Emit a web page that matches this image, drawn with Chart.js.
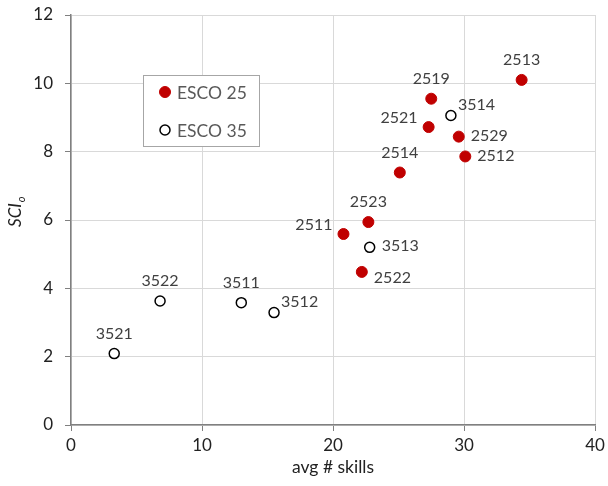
<!DOCTYPE html>
<html>
<head>
<meta charset="utf-8">
<script src="https://cdn.jsdelivr.net/npm/chart.js@4/dist/chart.umd.min.js"></script>
<style>
  body { margin: 0; background: #fff; }
  canvas { display: block; }
</style>
</head>
<body>
<canvas id="chart" width="608" height="486"></canvas>
<script>
// ESCO 25 occupations
var esco25Codes = ['2513', '2519', '2521', '2529', '2512', '2514', '2523', '2511', '2522'];
var esco25Skills = [34.4, 27.5, 27.3, 29.6, 30.1, 25.1, 22.7, 20.8, 22.2];
var esco25Sci = [10.1, 9.55, 8.72, 8.44, 7.86, 7.39, 5.94, 5.59, 4.48];

// ESCO 35 occupations
var esco35Codes = ['3514', '3513', '3522', '3511', '3512', '3521'];
var esco35Skills = [29.0, 22.8, 6.8, 13.0, 15.5, 3.3];
var esco35Sci = [9.06, 5.20, 3.63, 3.58, 3.29, 2.09];

var xTicks = [0, 10, 20, 30, 40];
var yTicks = [0, 2, 4, 6, 8, 10, 12];

// where each code label sits next to its marker
var labelSide = {
    '2513': 'above', '2519': 'above', '2521': 'left', '2529': 'right', '2512': 'right',
    '2514': 'above', '2523': 'above', '2511': 'left', '2522': 'belowRight',
    '3514': 'aboveRight', '3513': 'right', '3522': 'above', '3511': 'above',
    '3512': 'aboveRight', '3521': 'above'
};

function toPoints(xs, ys) {
    return xs.map(function (x, i) { return { x: x, y: ys[i] }; });
}

var pointLabels = {
    id: 'pointLabels',
    afterDatasetsDraw: function (chart) {
        var ctx = chart.ctx;
        var codes = [esco25Codes, esco35Codes];
        ctx.save();
        ctx.font = '16px Lato';
        ctx.fillStyle = '#404040';
        chart.data.datasets.forEach(function (ds, d) {
            chart.getDatasetMeta(d).data.forEach(function (pt, i) {
                var code = codes[d][i];
                var side = labelSide[code];
                var x = pt.x, y = pt.y;
                ctx.textBaseline = 'middle';
                if (side === 'above') {
                    ctx.textAlign = 'center';
                    ctx.fillText(code, x, y - 20);
                } else if (side === 'left') {
                    ctx.textAlign = 'right';
                    ctx.fillText(code, x - 11, y - 9);
                } else if (side === 'right') {
                    ctx.textAlign = 'left';
                    ctx.fillText(code, x + 12, y - 1);
                } else if (side === 'aboveRight') {
                    ctx.textAlign = 'left';
                    ctx.fillText(code, x + 7, y - 11);
                } else {
                    ctx.textAlign = 'left';
                    ctx.fillText(code, x + 12, y + 6);
                }
            });
        });
        ctx.restore();
    },
    afterDraw: function (chart) {
        var ctx = chart.ctx;
        ctx.save();

        // legend box
        ctx.fillStyle = '#fff';
        ctx.fillRect(143.5, 75.5, 116, 71);
        ctx.strokeStyle = '#a6a6a6';
        ctx.lineWidth = 1;
        ctx.strokeRect(143.5, 75.5, 116, 71);
        var rows = [92, 130];
        chart.data.datasets.forEach(function (ds, d) {
            ctx.beginPath();
            ctx.arc(165, rows[d], ds.pointRadius, 0, Math.PI * 2);
            ctx.fillStyle = ds.pointBackgroundColor;
            ctx.fill();
            ctx.lineWidth = ds.pointBorderWidth;
            ctx.strokeStyle = ds.pointBorderColor;
            ctx.stroke();
            ctx.font = '17.5px Lato';
            ctx.fillStyle = '#595959';
            ctx.textAlign = 'left';
            ctx.textBaseline = 'middle';
            ctx.fillText(ds.label, 177, rows[d] + 1);
        });

        // y axis title: italic SCI with subscript o
        ctx.translate(21, 227);
        ctx.rotate(-Math.PI / 2);
        ctx.fillStyle = '#222';
        ctx.textAlign = 'left';
        ctx.textBaseline = 'alphabetic';
        ctx.font = 'italic 17px Lato';
        ctx.fillText('SCI', 0, 0);
        var w = ctx.measureText('SCI').width;
        ctx.font = 'italic 11px Lato';
        ctx.fillText('o', w + 1, 4);
        ctx.restore();
    }
};

new Chart(document.getElementById('chart'), {
    type: 'scatter',
    data: {
        datasets: [{
            label: 'ESCO 25',
            data: toPoints(esco25Skills, esco25Sci),
            pointRadius: 5.5,
            pointHoverRadius: 5.5,
            pointBackgroundColor: '#c00000',
            pointBorderColor: '#c00000',
            pointBorderWidth: 1
        }, {
            label: 'ESCO 35',
            data: toPoints(esco35Skills, esco35Sci),
            pointRadius: 5,
            pointHoverRadius: 5,
            pointBackgroundColor: '#ffffff',
            pointBorderColor: '#000000',
            pointBorderWidth: 1.5
        }]
    },
    options: {
        responsive: false,
        devicePixelRatio: 1,
        animation: false,
        layout: { padding: { top: 15, right: 13, left: 0, bottom: 0 } },
        plugins: {
            legend: { display: false },
            tooltip: { enabled: false }
        },
        scales: {
            x: {
                type: 'linear',
                min: 0,
                max: 40,
                afterBuildTicks: function (scale) {
                    scale.ticks = xTicks.map(function (v) { return { value: v }; });
                },
                afterFit: function (scale) {
                    scale.height = 61;
                    scale.paddingLeft = 0;
                    scale.paddingRight = 0;
                },
                ticks: { font: { family: 'Lato', size: 17 }, color: '#222', padding: 4 },
                grid: { color: '#d9d9d9', tickColor: '#808080', tickLength: 6 },
                border: { color: '#808080', width: 1.5 },
                title: {
                    display: true,
                    text: 'avg # skills',
                    font: { family: 'Lato', size: 17.5 },
                    color: '#222',
                    padding: { top: 0, bottom: 8 }
                }
            },
            y: {
                type: 'linear',
                min: 0,
                max: 12,
                afterBuildTicks: function (scale) {
                    scale.ticks = yTicks.map(function (v) { return { value: v }; });
                },
                afterFit: function (scale) {
                    scale.width = 71;
                    scale.paddingTop = 0;
                    scale.paddingBottom = 0;
                },
                ticks: { font: { family: 'Lato', size: 17 }, color: '#222', padding: 12 },
                grid: { color: '#d9d9d9', tickColor: '#808080', tickLength: 6 },
                border: { color: '#808080', width: 1.5 }
            }
        }
    },
    plugins: [pointLabels]
});
</script>
</body>
</html>
